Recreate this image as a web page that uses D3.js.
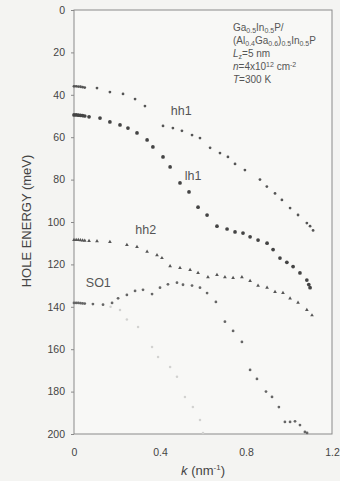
<!DOCTYPE html>
<html><head><meta charset="utf-8">
<script src="https://cdn.jsdelivr.net/npm/d3@7"></script>
<style>
html,body{margin:0;padding:0;background:#f4f4f2;}
svg{display:block;font-family:Arial,"Liberation Sans",sans-serif;}
</style></head>
<body><svg id="c" width="340" height="481"></svg>
<script>
const kHH1 = [0,0.01,0.02,0.03,0.04,0.05,0.107,0.167,0.228,0.284,0.33,0.414,0.46,0.502,0.549,0.586,0.633,0.679,0.716,0.749,0.795,0.865,0.897,0.935,0.967,1.005,1.042,1.083,1.098,1.112];
const eHH1 = [36,36,36.1,36.2,36.4,36.6,36.8,38.7,39.6,42,45.3,54.7,55.7,57,59,60.4,65,67.5,69.3,72.6,75.5,80,83.3,86.5,89.6,93.4,96.7,100.5,102,104];
const kLH1 = [0,0.01,0.02,0.03,0.04,0.05,0.07,0.121,0.167,0.214,0.251,0.293,0.34,0.367,0.414,0.447,0.493,0.535,0.577,0.619,0.665,0.712,0.749,0.786,0.819,0.856,0.898,0.926,0.958,0.99,1.019,1.051,1.083,1.092,1.098];
const eLH1 = [49.5,49.5,49.6,49.7,49.8,50,50.4,51,52.8,54.2,55.7,58,61.3,64.6,69.3,74,81.6,85.8,93,96.7,102,103.3,104.7,105.2,107,108.5,110,113,117,119,121,124,127.4,129.5,131];
const kHH2 = [0,0.01,0.02,0.03,0.04,0.05,0.07,0.107,0.167,0.246,0.293,0.34,0.386,0.409,0.447,0.493,0.54,0.577,0.623,0.665,0.702,0.74,0.781,0.819,0.856,0.898,0.935,0.972,1.005,1.042,1.083,1.107];
const eHH2 = [108.5,108.5,108.5,108.6,108.7,108.8,108.9,109,109.4,110.8,111.8,114,115.6,117,120.8,121.7,122.6,124,126,125,126,126.4,126,127.8,130,131,133,133.5,136,138,141.5,144];
const kSO1 = [0,0.01,0.02,0.03,0.04,0.05,0.088,0.135,0.177,0.205,0.246,0.284,0.321,0.363,0.4,0.437,0.479,0.507,0.549,0.586,0.619,0.66,0.702,0.74,0.781,0.819,0.851,0.893,0.921,0.953,0.981,1.005,1.028,1.051,1.074,1.084];
const eSO1 = [138.2,138.2,138.2,138.3,138.4,138.5,138.7,139,138.2,136,134.4,132.5,132,134,131,129.4,128.6,129.6,130,131,133.5,137.7,147,151.4,156.6,169.8,174,180,182.5,187.3,194.3,194.3,194,195.8,199,199.5];
const kFaint = [0.17,0.214,0.246,0.298,0.363,0.391,0.447,0.479,0.516,0.553,0.586,0.6];
const eFaint = [140,141.5,146,149.5,159,163.7,168.4,173,182.5,187.3,193.4,199.5];
const xTicks = [0,0.4,0.8,1.2];
const yTicks = [0,20,40,60,80,100,120,140,160,180,200];
const curveLabels = [
  {t:"hh1", k:0.45, e:49.5},
  {t:"lh1", k:0.515, e:80},
  {t:"hh2", k:0.285, e:105.5},
  {t:"SO1", k:0.055, e:130.5}
];

const svg = d3.select("#c");
const L=74,R=332,T=10,B=434;
const x = d3.scaleLinear().domain([0,1.2]).range([L,R]);
const y = d3.scaleLinear().domain([0,200]).range([T,B]);

svg.append("rect").attr("x",L).attr("y",T).attr("width",R-L).attr("height",B-T)
  .attr("fill","#f8f8f6").attr("stroke","#8a8a8a").attr("stroke-width",1);

const ya = svg.append("g").attr("transform",`translate(${L},0)`)
  .call(d3.axisLeft(y).tickValues(yTicks).tickSize(3).tickPadding(6).tickFormat(d3.format("d")));
const xa = svg.append("g").attr("transform",`translate(0,${B})`)
  .call(d3.axisBottom(x).tickValues(xTicks).tickSize(0).tickPadding(15).tickFormat(d=>d===0?"0":d3.format(".1f")(d)));
[ya,xa].forEach(g=>{
  g.select(".domain").remove();
  g.selectAll("line").attr("stroke","#8a8a8a");
  g.selectAll("text").attr("fill","#444").attr("font-size","10.5px");
});

function series(ks, es, fill, r, shape){
  const pts = ks.map((k,i)=>[k,es[i]]);
  const sym = d3.symbol().type(shape).size(r);
  svg.append("g").selectAll("path").data(pts).join("path")
    .attr("transform",d=>`translate(${x(d[0])},${y(d[1])})`)
    .attr("d",sym).attr("fill",fill);
}
series(kFaint,eFaint,"#d2d2d0",5,d3.symbolCircle);
series(kHH1,eHH1,"#555",6,d3.symbolCircle);
series(kLH1,eLH1,"#444",11,d3.symbolCircle);
series(kHH2,eHH2,"#555",6,d3.symbolTriangle);
series(kSO1,eSO1,"#666",6,d3.symbolCircle);

svg.append("g").selectAll("text").data(curveLabels).join("text")
  .attr("x",d=>x(d.k)).attr("y",d=>y(d.e)).attr("font-size","12.5px").attr("fill","#555").text(d=>d.t);

const info = svg.append("g").attr("font-size","10px").attr("fill","#555");
const lines = [
  [["Ga",""],["0.5","sub"],["In",""],["0.5","sub"],["P/",""]],
  [["(Al",""],["0.4","sub"],["Ga",""],["0.6","sub"],[")",""],["0.5","sub"],["In",""],["0.5","sub"],["P",""]],
  [["L","i"],["z","sub"],["=5 nm",""]],
  [["n","i"],["=4x10",""],["12","sup"],[" cm",""],["-2","sup"]],
  [["T","i"],["=300 K",""]]
];
lines.forEach((ln,i)=>{
  const t = info.append("text").attr("x",233).attr("y",31+i*13);
  let off=0;
  ln.forEach(([s,m])=>{
    const sp = t.append("tspan").text(s);
    if(m==="sub"){ sp.attr("font-size","7px").attr("dy",1.8-off); off=1.8; }
    else if(m==="sup"){ sp.attr("font-size","7px").attr("dy",-3-off); off=-3; }
    else { sp.attr("dy",-off); off=0; if(m==="i") sp.attr("font-style","italic"); }
  });
});

svg.append("text").attr("transform","translate(31,221) rotate(-90)").attr("text-anchor","middle")
  .attr("font-size","13px").attr("fill","#444").text("HOLE ENERGY (meV)");
const xt = svg.append("text").attr("x",203).attr("y",475).attr("text-anchor","middle").attr("font-size","13px").attr("fill","#444");
xt.append("tspan").attr("font-style","italic").text("k");
xt.append("tspan").text(" (nm");
xt.append("tspan").attr("font-size","8px").attr("dy",-5).text("-1");
xt.append("tspan").attr("dy",5).text(")");
</script></body></html>
